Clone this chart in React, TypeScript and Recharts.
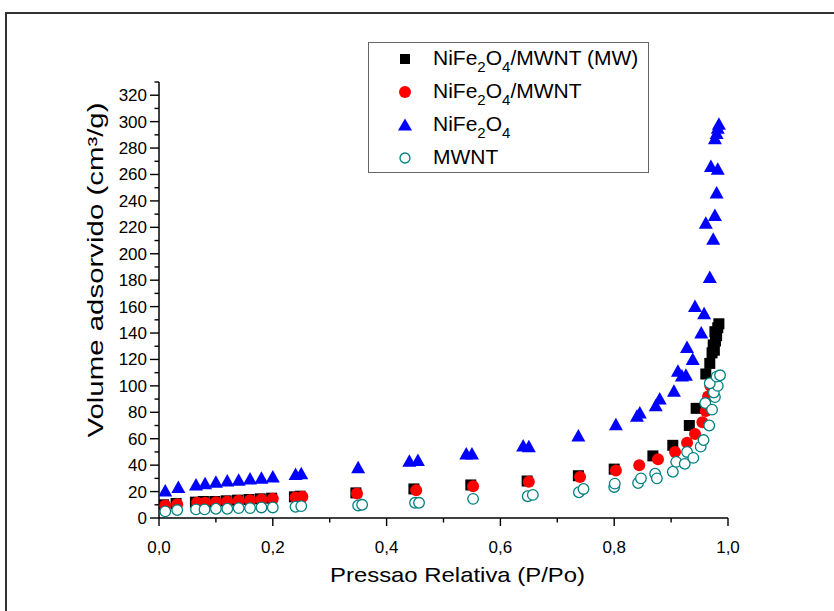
import React from "react";
import { ScatterChart, Scatter, XAxis, YAxis } from "recharts";

// NiFe2O4/MWNT (MW) - black squares
const mwP = [0.008, 0.030, 0.064, 0.078, 0.098, 0.118, 0.138, 0.158, 0.178, 0.198, 0.238, 0.248, 0.346, 0.448, 0.548, 0.647, 0.737, 0.800, 0.868, 0.903, 0.932, 0.944, 0.961, 0.968, 0.972, 0.976, 0.974, 0.978, 0.980, 0.977, 0.982, 0.984];
const mwV = [10, 11, 12, 12.5, 12.5, 13, 13.5, 14, 14.5, 15, 16, 16.5, 19, 22, 25, 28, 32, 37, 47, 55, 70, 83, 109, 117, 125, 127, 131, 134, 138, 141, 144, 147];

// NiFe2O4/MWNT - red circles
const compP = [0.011, 0.032, 0.067, 0.081, 0.100, 0.120, 0.140, 0.160, 0.180, 0.200, 0.240, 0.252, 0.348, 0.452, 0.552, 0.650, 0.740, 0.803, 0.844, 0.877, 0.907, 0.928, 0.942, 0.955, 0.961, 0.965, 0.969];
const compV = [9.5, 10.5, 11.5, 11.5, 12, 12.5, 13, 13.5, 14, 14.5, 15.5, 16, 18.5, 21, 24, 27.5, 31, 36, 40, 44.5, 50, 57, 63.5, 72.5, 81, 92, 100];

// NiFe2O4 - blue triangles
const ferP = [0.011, 0.034, 0.065, 0.081, 0.100, 0.120, 0.140, 0.160, 0.180, 0.200, 0.240, 0.250, 0.350, 0.440, 0.455, 0.540, 0.550, 0.640, 0.650, 0.737, 0.803, 0.840, 0.845, 0.873, 0.880, 0.905, 0.912, 0.919, 0.926, 0.928, 0.938, 0.942, 0.953, 0.958, 0.961, 0.968, 0.970, 0.974, 0.977, 0.980, 0.982, 0.977, 0.980, 0.982, 0.984];
const ferV = [20.5, 23, 25, 26, 27, 28, 28.5, 29.5, 30, 31, 33, 33.5, 38, 43, 43.5, 48.5, 48.5, 54.5, 54, 62, 70.5, 77, 79.5, 85, 90, 96, 111, 107.5, 108, 129, 120, 160, 140, 154.5, 223, 182, 266, 211, 229, 246, 264, 287, 291, 295, 298];

// MWNT - open teal circles
const cntP = [0.011, 0.032, 0.065, 0.080, 0.100, 0.120, 0.140, 0.160, 0.180, 0.200, 0.240, 0.250, 0.350, 0.357, 0.450, 0.457, 0.552, 0.648, 0.657, 0.738, 0.746, 0.800, 0.801, 0.842, 0.847, 0.872, 0.875, 0.903, 0.909, 0.924, 0.928, 0.939, 0.952, 0.957, 0.967, 0.960, 0.972, 0.977, 0.975, 0.982, 0.968, 0.980, 0.986];
const cntV = [5, 6, 6.5, 6.5, 7, 7, 7.5, 7.5, 8, 8, 8.5, 9, 9.5, 10, 11.5, 11.5, 14.5, 16.5, 17.5, 19.5, 22, 23.5, 26, 26.5, 30, 33.5, 30, 35, 42.5, 41, 50, 45.5, 54, 59, 70, 87, 82, 91.5, 95, 100, 102, 107, 108];

const xTicks = [0, 0.1, 0.2, 0.3, 0.4, 0.5, 0.6, 0.7, 0.8, 0.9, 1.0];
const yTicks = [0, 10, 20, 30, 40, 50, 60, 70, 80, 90, 100, 110, 120, 130, 140, 150, 160, 170, 180, 190, 200, 210, 220, 230, 240, 250, 260, 270, 280, 290, 300, 310, 320, 330];

const toPts = (p: number[], v: number[]) => p.map((x, i) => ({ p: x, v: v[i] }));
const mwData = toPts(mwP, mwV);
const compData = toPts(compP, compV);
const ferData = toPts(ferP, ferV);
const cntData = toPts(cntP, cntV);

const FONT = "Arial, 'Liberation Sans', Helvetica, sans-serif";
const TEAL = "#008080";

const SquareShape = (p: any) => <rect x={p.cx - 5.5} y={p.cy - 5.5} width={11} height={11} fill="#000" />;
const RedShape = (p: any) => <circle cx={p.cx} cy={p.cy} r={6} fill="#ff0000" />;
const TriShape = (p: any) => (
  <polygon points={`${p.cx},${p.cy - 7} ${p.cx - 7},${p.cy + 5.5} ${p.cx + 7},${p.cy + 5.5}`} fill="#0000ff" />
);
const OpenShape = (p: any) => <circle cx={p.cx} cy={p.cy} r={5.3} fill="#fff" stroke={TEAL} strokeWidth={1.3} />;

const XTick = (props: any) => {
  const { x, y, payload } = props;
  const v = payload.value as number;
  const major = Math.round(v * 10) % 2 === 0;
  return (
    <g>
      <line x1={x} x2={x} y1={y} y2={y + (major ? 8 : 4.5)} stroke="#000" strokeWidth={1.4} />
      {major && (
        <text x={x} y={y + 35} textAnchor="middle" fontSize={17} fontFamily={FONT} fill="#000">
          {v.toFixed(1).replace(".", ",")}
        </text>
      )}
    </g>
  );
};

const YTick = (props: any) => {
  const { x, y, payload } = props;
  const v = payload.value as number;
  const major = v % 20 === 0;
  return (
    <g>
      <line x1={x} x2={x - (major ? 9 : 4.5)} y1={y} y2={y} stroke="#000" strokeWidth={1.4} />
      {major && v <= 320 && (
        <text x={x - 12} y={y + 6} textAnchor="end" fontSize={17} fontFamily={FONT} fill="#000">
          {v}
        </text>
      )}
    </g>
  );
};

const XTitle = (props: any) => {
  const vb = props.viewBox;
  return (
    <text
      x={vb.x + vb.width / 2 + 14}
      y={vb.y + 64}
      textAnchor="middle"
      fontSize={21}
      fontFamily={FONT}
      fill="#000"
      textLength={255}
      lengthAdjust="spacingAndGlyphs"
    >
      Pressao Relativa (P/Po)
    </text>
  );
};

const YTitle = (props: any) => {
  const vb = props.viewBox;
  const cx = 103;
  const cy = vb.y + vb.height / 2 - 30;
  return (
    <text
      x={cx}
      y={cy}
      transform={`rotate(-90 ${cx} ${cy})`}
      textAnchor="middle"
      fontSize={22}
      fontFamily={FONT}
      fill="#000"
      textLength={335}
      lengthAdjust="spacingAndGlyphs"
    >
      Volume adsorvido (cm³/g)
    </text>
  );
};

const Sub = ({ children }: { children: React.ReactNode }) => (
  <span style={{ fontSize: 15, position: "relative", top: 7 }}>{children}</span>
);

const legendRows = [
  { key: "mw", label: <>NiFe<Sub>2</Sub>O<Sub>4</Sub>/MWNT (MW)</>, sym: <rect x={3} y={3} width={10} height={10} fill="#000" /> },
  { key: "comp", label: <>NiFe<Sub>2</Sub>O<Sub>4</Sub>/MWNT</>, sym: <circle cx={8} cy={8} r={6} fill="#ff0000" /> },
  { key: "fer", label: <>NiFe<Sub>2</Sub>O<Sub>4</Sub></>, sym: <polygon points="8,1.5 1,13.5 15,13.5" fill="#0000ff" /> },
  { key: "cnt", label: <>MWNT</>, sym: <circle cx={8} cy={8} r={5} fill="#fff" stroke={TEAL} strokeWidth={1.3} /> },
];

export default function App() {
  return (
    <div style={{ position: "absolute", left: 0, top: 0, width: 834, height: 611, overflow: "hidden", background: "#fff" }}>
      <div
        style={{
          position: "absolute",
          left: 5,
          top: 12,
          width: 900,
          height: 700,
          border: "2px solid #333",
          boxSizing: "border-box",
        }}
      />
      <div style={{ position: "absolute", left: 0, top: 0 }}>
        <ScatterChart width={834} height={611} margin={{ top: 82, right: 106, left: 0, bottom: 0 }}>
          <XAxis
            type="number"
            dataKey="p"
            domain={[0, 1]}
            ticks={xTicks}
            interval={0}
            height={93}
            tickSize={0}
            tickMargin={0}
            tickLine={false}
            tick={<XTick />}
            axisLine={{ stroke: "#000", strokeWidth: 1.5 }}
            allowDataOverflow
            label={<XTitle />}
          />
          <YAxis
            type="number"
            dataKey="v"
            domain={[0, 330]}
            ticks={yTicks}
            interval={0}
            width={159}
            tickSize={0}
            tickMargin={0}
            tickLine={false}
            tick={<YTick />}
            axisLine={{ stroke: "#000", strokeWidth: 1.5 }}
            allowDataOverflow
            label={<YTitle />}
          />
          <Scatter name="NiFe2O4/MWNT (MW)" data={mwData} shape={<SquareShape />} isAnimationActive={false} />
          <Scatter name="NiFe2O4/MWNT" data={compData} shape={<RedShape />} isAnimationActive={false} />
          <Scatter name="NiFe2O4" data={ferData} shape={<TriShape />} isAnimationActive={false} />
          <Scatter name="MWNT" data={cntData} shape={<OpenShape />} isAnimationActive={false} />
        </ScatterChart>
      </div>
      <div
        style={{
          position: "absolute",
          left: 368,
          top: 42,
          width: 281,
          height: 131,
          border: "1px solid #666",
          boxSizing: "border-box",
          background: "#fff",
          fontFamily: FONT,
          fontSize: 21,
          color: "#000",
        }}
      >
        {legendRows.map((r, i) => (
          <div
            key={r.key}
            style={{ position: "absolute", left: 0, top: i * 33, height: 33, width: "100%" }}
          >
            <svg width={16} height={16} style={{ position: "absolute", left: 28, top: 8 }}>
              {r.sym}
            </svg>
            <span style={{ position: "absolute", left: 64, top: 3, whiteSpace: "nowrap", lineHeight: "24px" }}>{r.label}</span>
          </div>
        ))}
      </div>
    </div>
  );
}
